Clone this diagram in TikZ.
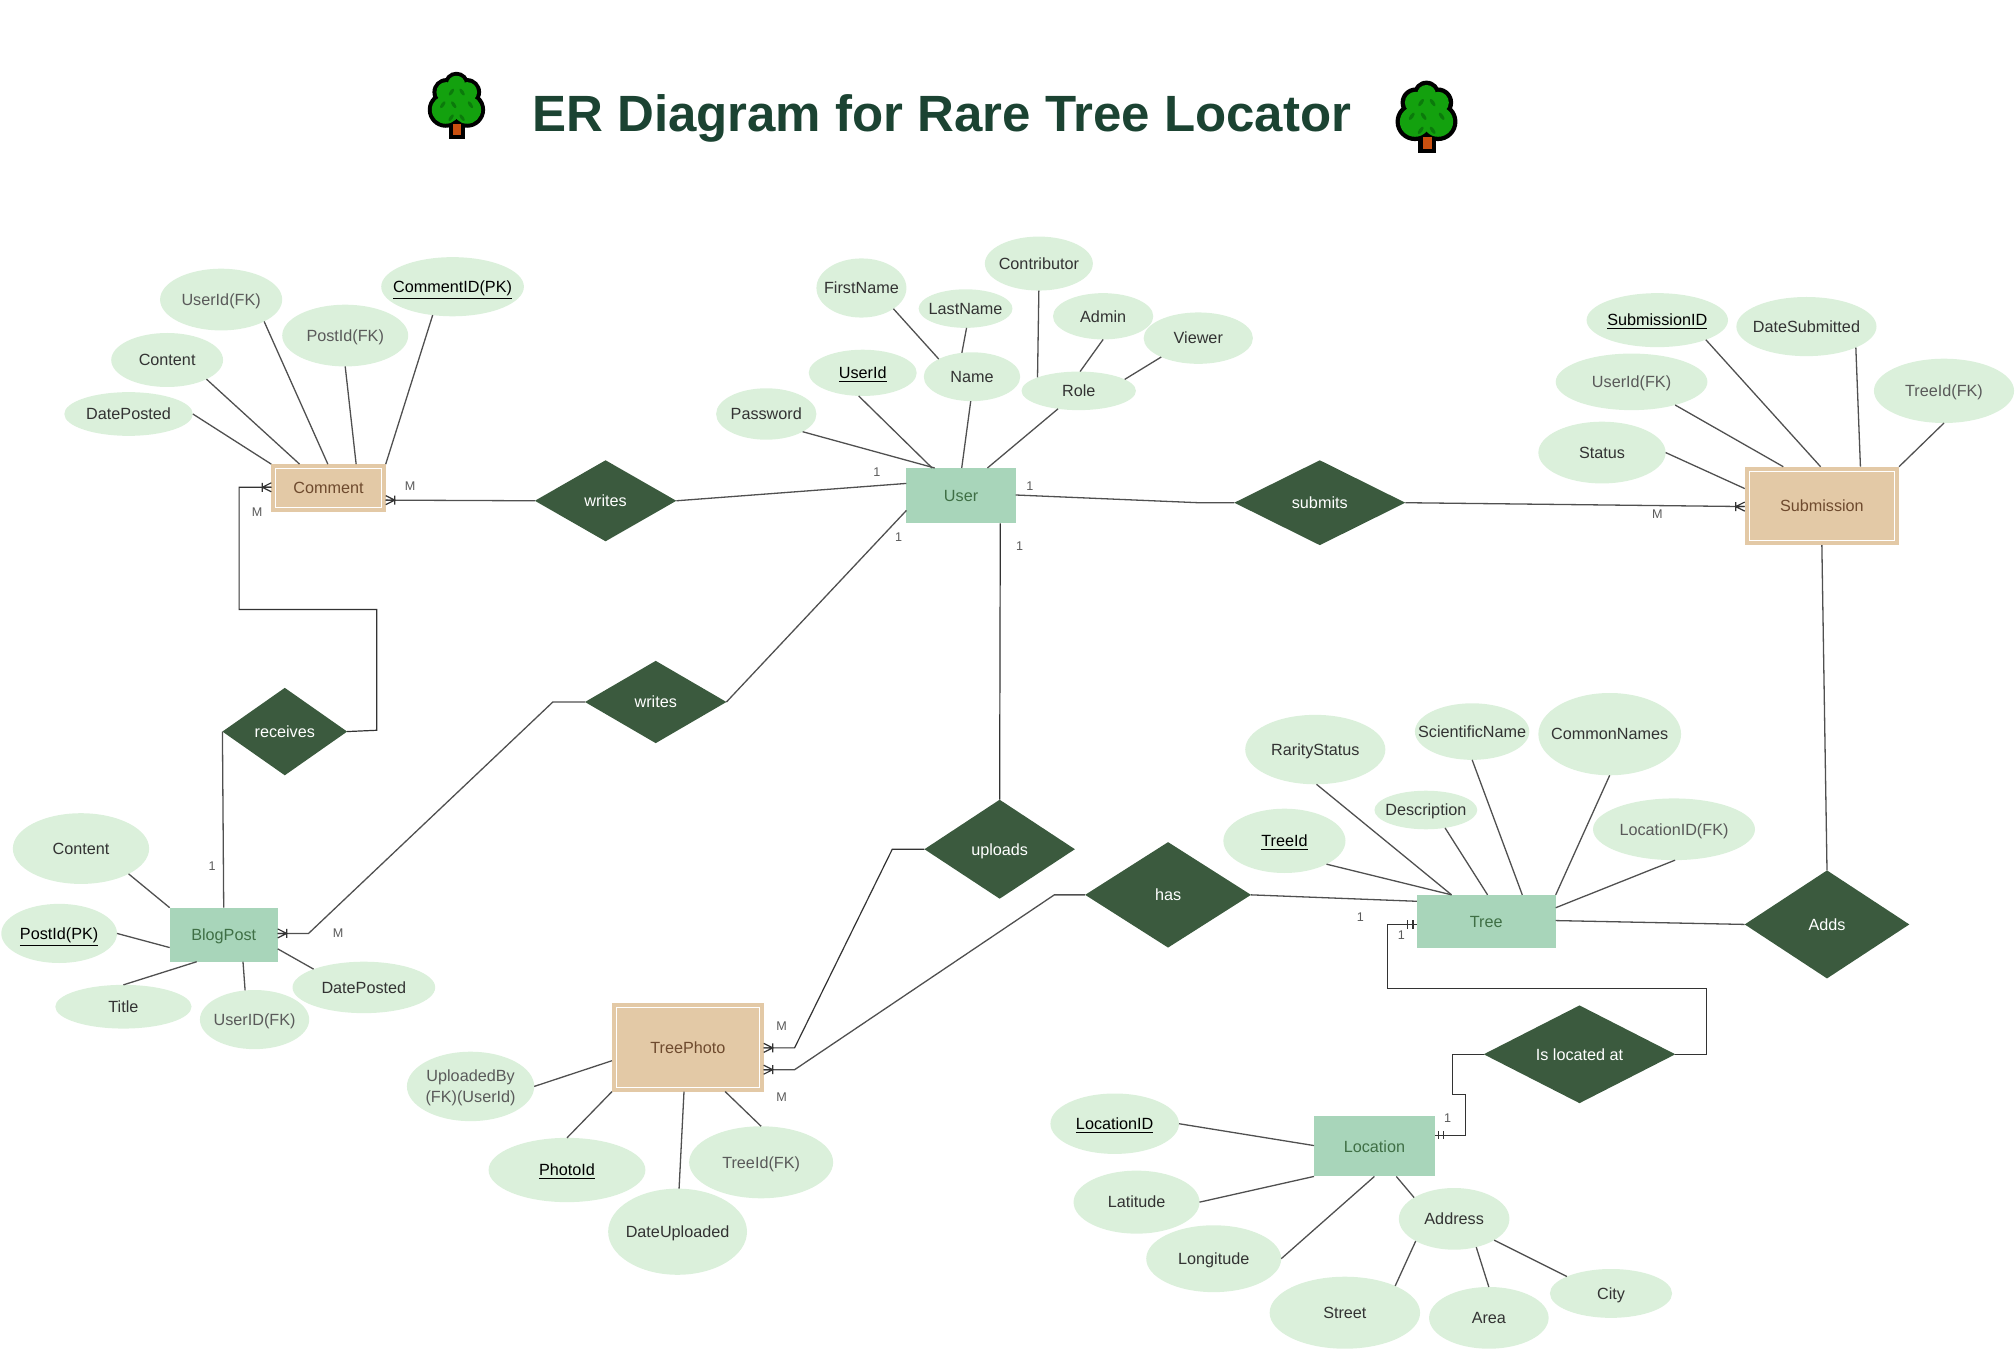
\documentclass[tikz,border=0pt]{standalone}
\usepackage{fontspec}
\setmainfont{Liberation Sans}
\usetikzlibrary{shapes.geometric,calc}
\definecolor{attrfill}{HTML}{DBF0DB}
\definecolor{entgreen}{HTML}{A8D5BA}
\definecolor{enttan}{HTML}{E3C9A6}
\definecolor{reldark}{HTML}{3B5A3E}
\definecolor{titlecol}{HTML}{1B4332}
\definecolor{greentxt}{HTML}{3F6F45}
\definecolor{browntxt}{HTML}{6E4A2E}
\definecolor{txtdark}{HTML}{333333}
\definecolor{txtgrey}{HTML}{5A5A5A}
\definecolor{lncol}{HTML}{505050}
\definecolor{leafcol}{HTML}{0B7A0B}
\definecolor{crown}{HTML}{13A10E}
\definecolor{trunkcol}{HTML}{CA5010}
\def\un{0.6428pt}
\tikzset{
  x=\un,y=-\un,
  lbl/.style={font=\fontsize{8.1}{10}\selectfont},
  attrnode/.style={lbl,shape=ellipse,fill=attrfill,inner sep=0pt,outer sep=0pt,align=center},
  strongent/.style={lbl,shape=rectangle,fill=entgreen,text=greentxt,inner sep=0pt,outer sep=0pt},
  weakent/.style={lbl,shape=rectangle,fill=enttan,text=browntxt,inner sep=0pt,outer sep=0pt},
  relnode/.style={lbl,shape=diamond,fill=reldark,text=white,inner sep=0pt,outer sep=0pt},
  ln/.style={draw=lncol,line width=0.65pt},
  hardln/.style={draw=black!80,line width=0.6pt},
  card/.style={font=\fontsize{6.3}{7}\selectfont,text=txtgrey,inner sep=0pt},
}
\newcommand\midtext[1]{\makebox[0pt][c]{\raisebox{-2.9pt}[0pt][0pt]{#1}}}
\newcommand\attr[7]{\node[attrnode,text=#6,minimum width=#4*\un,minimum height=#5*\un] (#1) at (#2,#3) {\midtext{#7}};}
\newcommand\ent[7]{\node[#1,minimum width=#5*\un,minimum height=#6*\un] (#2) at (#3,#4) {\midtext{#7}};}
\newcommand\rel[6]{\node[relnode,minimum width=#4*\un,minimum height=#5*\un] (#1) at (#2,#3) {\midtext{#6}};}
\newcommand\inset[1]{\draw[white,line width=0.5pt] ($(#1.north west)+(3.4,3.4)$) rectangle ($(#1.south east)+(-3.4,-3.4)$);}
\newcommand\crowfoot[2]{\draw[hardln,shift={(#1)},rotate=#2] (0,0) -- (7,0) (0,-3.5) -- (7,0) -- (0,3.5) (7,-3.5) -- (7,3.5);}
\newcommand\twobars[2]{\draw[hardln,shift={(#1)},rotate=#2] (0,0) -- (9,0) (3,-3.2) -- (3,3.2) (7,-3.2) -- (7,3.2);}
\newcommand\treeicon[3]{%
  \begin{scope}[shift={(#1,#2)},scale=#3]
    \fill[black] (-23,50) rectangle (27,101);
    \fill[black] (0,-63) circle (38) (-30,-40) circle (42) (32,-40) circle (42)
                 (-32,13) circle (54) (32,13) circle (54) (0,-15) circle (62);
    \fill[crown] (0,-63) circle (26) (-30,-40) circle (30) (32,-40) circle (30)
                 (-32,13) circle (42) (32,13) circle (42) (0,-15) circle (50);
    \fill[trunkcol] (-11,55) rectangle (15,90);
    \foreach \lx/\ly/\la in {-15/-40/-35,17/-40/35,-41/-2/-35,-8/-2/35,42/-2/35,-16/37/-35,17/37/35}
      \fill[leafcol,shift={(\lx,\ly)},rotate=\la] (0,0) ellipse (5 and 12);
  \end{scope}}
\newcommand\key[1]{\underline{#1}}
\begin{document}
\begin{tikzpicture}
\useasboundingbox (0,0) rectangle (1568,1049.2);
% title
\node[font=\fontsize{25.5}{30}\selectfont\bfseries,text=titlecol,inner sep=0pt] (title) at (732.5,92) {ER Diagram for Rare Tree Locator};
\treeicon{355}{82}{0.2593}
\treeicon{1109.5}{91}{0.28}
% entities
\ent{weakent}{c}{255.5}{379.5}{89}{37}{Comment}
\ent{strongent}{u}{747.5}{385.5}{85}{43}{User}
\ent{weakent}{s}{1417}{393.5}{120}{61}{Submission}
\ent{strongent}{bp}{174}{727}{84}{42}{BlogPost}
\ent{strongent}{t}{1156}{716.5}{108}{41}{Tree}
\ent{weakent}{tp}{535}{814.5}{118}{69}{TreePhoto}
\ent{strongent}{loc}{1069}{891.5}{94}{47}{Location}
\inset{c}\inset{s}\inset{tp}
% relationships
\rel{wa}{471}{389.5}{110}{63}{writes}
\rel{sub}{1026.5}{391}{133}{66}{submits}
\rel{wb}{510}{546}{110}{64}{writes}
\rel{rec}{221.5}{569}{97}{68}{receives}
\rel{upl}{777.5}{660.5}{117}{77}{uploads}
\rel{has}{908.5}{696}{129}{82}{has}
\rel{add}{1421}{719}{128}{84}{Adds}
\rel{isl}{1228.5}{820}{149}{76}{Is located at}
% comment attributes
\attr{cu}{172}{233}{95}{48}{txtgrey}{UserId(FK)}
\attr{ck}{352}{223}{111}{46}{black}{\key{CommentID(PK)}}
\attr{cp}{268.5}{261}{98}{48}{txtgrey}{PostId(FK)}
\attr{cc}{130}{280}{87}{42}{txtdark}{Content}
\attr{cd}{100}{322}{100}{34}{txtdark}{DatePosted}
% user attributes
\attr{uf}{670}{224}{70}{46}{txtdark}{FirstName}
\attr{ul}{751}{240}{73}{30}{txtdark}{LastName}
\attr{uc}{808}{205}{84}{42}{txtdark}{Contributor}
\attr{ua}{858}{246}{78}{36}{txtdark}{Admin}
\attr{uv}{932}{263}{85}{40}{txtdark}{Viewer}
\attr{un}{756}{293}{75}{38}{txtdark}{Name}
\attr{ur}{839}{304}{89}{30}{txtdark}{Role}
\attr{uk}{671}{290}{84}{36}{black}{\key{UserId}}
\attr{up}{596}{322}{78}{40}{txtdark}{Password}
% submission attributes
\attr{sk}{1289}{249}{110}{42}{black}{\key{SubmissionID}}
\attr{sd}{1405}{254}{109}{46}{txtdark}{DateSubmitted}
\attr{su}{1269}{297}{118}{44}{txtgrey}{UserId(FK)}
\attr{st}{1512}{304}{109}{50}{txtgrey}{TreeId(FK)}
\attr{ss}{1246}{352}{99}{48}{txtdark}{Status}
% tree attributes
\attr{tr}{1023}{583}{109}{54}{txtdark}{RarityStatus}
\attr{tn}{1145}{569}{89}{44}{txtdark}{ScientificName}
\attr{tc}{1252}{571}{111}{64}{txtdark}{CommonNames}
\attr{td}{1109}{630}{80}{30}{txtdark}{Description}
\attr{tk}{999}{654}{95}{50}{black}{\key{TreeId}}
\attr{tl}{1302}{645}{126}{48}{txtgrey}{LocationID(FK)}
% blogpost attributes
\attr{bc}{63}{660}{106}{55}{txtdark}{Content}
\attr{bk}{46}{726}{90}{46}{black}{\key{PostId(PK)}}
\attr{bt}{96}{783}{106}{34}{txtdark}{Title}
\attr{bu}{198}{793}{85}{46}{txtgrey}{UserID(FK)}
\attr{bd}{283}{768}{111}{40}{txtdark}{DatePosted}
% treephoto attributes
\attr{pu}{366}{845}{99}{54}{txtgrey}{\raisebox{-5.2pt}{\shortstack{UploadedBy\\(FK)(UserId)}}}
\attr{pk}{441}{910}{122}{50}{black}{\key{PhotoId}}
\attr{pd}{527}{958}{108}{67}{txtdark}{DateUploaded}
\attr{pt}{592}{904}{112}{56}{txtgrey}{TreeId(FK)}
% location attributes
\attr{lk}{867}{874}{100}{47}{black}{\key{LocationID}}
\attr{la}{884}{935}{98}{49}{txtdark}{Latitude}
\attr{lo}{944}{979}{105}{52}{txtdark}{Longitude}
\attr{ld}{1131}{948}{86}{48}{txtdark}{Address}
\attr{ls}{1046}{1021}{117}{56}{txtdark}{Street}
\attr{lr}{1158}{1025}{93}{48}{txtdark}{Area}
\attr{lc}{1253}{1006}{95}{38}{txtdark}{City}
% attribute connectors
\draw[ln] (cd.0) -- (c.north west);
\draw[ln] (cc.-26) -- ($(c.north west)+(22,0)$);
\draw[ln] (cu.-27) -- ($(c.north west)+(44,0)$);
\draw[ln] (cp.-90) -- ($(c.north west)+(66,0)$);
\draw[ln] (ck.-125) -- (c.north east);
\draw[ln] (up.-26) -- ($(u.north west)+(22,0)$);
\draw[ln] (uk.-100) -- ($(u.north west)+(20,0)$);
\draw[ln] (un.-93) -- ($(u.north west)+(43,0)$);
\draw[ln] (uf.-33) -- (un.152);
\draw[ln] (ul.-87) -- (un.113);
\draw[ln] (uc.-90) -- (ur.162);
\draw[ln] (ua.-90) -- (ur.86);
\draw[ln] (uv.-153) -- (ur.14);
\draw[ln] (ur.-139) -- ($(u.north west)+(63,0)$);
\draw[ln] (sk.-22) -- ($(s.north west)+(59,0)$);
\draw[ln] (sd.-23) -- ($(s.north west)+(90,0)$);
\draw[ln] (su.-28) -- ($(s.north west)+(30,0)$);
\draw[ln] (st.-90) -- (s.north east);
\draw[ln] (ss.0) -- ($(s.north west)+(0,17)$);
\draw[ln] (tr.-88) -- ($(t.north west)+(27,0)$);
\draw[ln] (td.-43) -- ($(t.north west)+(55,0)$);
\draw[ln] (tn.-90) -- ($(t.north west)+(82,0)$);
\draw[ln] (tc.-90) -- (t.north east);
\draw[ln] (tk.-29) -- ($(t.north west)+(27,0)$);
\draw[ln] (tl.-88) -- ($(t.north east)+(0,10)$);
\draw[ln] (bc.-28) -- (bp.north west);
\draw[ln] (bk.0) -- ($(bp.north west)+(0,31)$);
\draw[ln] (bt.90) -- ($(bp.south west)+(21,0)$);
\draw[ln] (bu.108) -- ($(bp.south west)+(57,0)$);
\draw[ln] (bd.160) -- ($(bp.north east)+(0,32)$);
\draw[ln] (pu.0) -- ($(tp.north west)+(0,45)$);
\draw[ln] (pk.90) -- (tp.south west);
\draw[ln] (pd.88) -- ($(tp.south west)+(56,0)$);
\draw[ln] (pt.90) -- ($(tp.south west)+(88,0)$);
\draw[ln] (lk.0) -- ($(loc.north west)+(0,23)$);
\draw[ln] (la.0) -- (loc.south west);
\draw[ln] (lo.0) -- ($(loc.south west)+(47,0)$);
\draw[ln] (ld.152) -- ($(loc.south west)+(64,0)$);
\draw[ln] (ls.28) -- (ld.-150);
\draw[ln] (lr.90) -- (ld.-52);
\draw[ln] (lc.159) -- (ld.-28);
% relationship connectors
\coordinate (cR) at ($(c.north east)+(0,28)$);
\coordinate (cL) at ($(c.north west)+(0,18)$);
\coordinate (sL) at ($(s.north west)+(0,31)$);
\coordinate (bR) at ($(bp.north east)+(0,20)$);
\coordinate (pA) at ($(tp.north east)+(0,35)$);
\coordinate (pB) at ($(tp.north east)+(0,52)$);
\coordinate (tL) at ($(t.north west)+(0,23)$);
\coordinate (lR) at ($(loc.north east)+(0,15)$);
\draw[ln] (wa.west) -- (cR);
\draw[ln] (wa.east) -- ($(u.north west)+(0,12)$);
\draw[ln] ($(u.north east)+(0,21)$) -- (932,391) -- (sub.west);
\draw[ln] (sub.east) -- (sL);
\draw[hardln] ($(u.south west)+(73,0)$) -- (upl.north);
\draw[ln] (wb.east) -- ($(u.north west)+(0,33)$);
\draw[ln] (wb.west) -- (430,546) -- (240,726) -- (bR);
\draw[hardln] (cL) -- (186,379) -- (186,474) -- (293,474) -- (293,568) -- (rec.east);
\draw[ln] (rec.west) -- ($(bp.north west)+(42,0)$);
\draw[hardln] (upl.west) -- (694,660.5) -- (618,815) -- (pA);
\draw[ln] (has.west) -- (820,696) -- (618,832) -- (pB);
\draw[ln] (has.east) -- ($(t.north west)+(0,5)$);
\draw[ln] ($(t.north east)+(0,20)$) -- (add.west);
\draw[ln] (s.south) -- (add.north);
\draw[hardln] (tL) -- (1079,719) -- (1079,769) -- (1327,769) -- (1327,820) -- (isl.east);
\draw[hardln] (isl.west) -- (1130,820) -- (1130,851) -- (1140,851) -- (1140,883) -- (lR);
\crowfoot{cR}{0}
\crowfoot{cL}{180}
\crowfoot{sL}{180}
\crowfoot{bR}{0}
\crowfoot{pA}{0}
\crowfoot{pB}{0}
\twobars{tL}{180}
\twobars{lR}{0}
% cardinalities
\node[card] (m1) at (319,378) {M};
\node[card] (m2) at (200,398) {M};
\node[card] (o1) at (682,367) {1};
\node[card] (o2) at (801,378) {1};
\node[card] (m3) at (1289,400) {M};
\node[card] (o3) at (699,418) {1};
\node[card] (o4) at (793,425) {1};
\node[card] (o5) at (165,674) {1};
\node[card] (m4) at (263,726) {M};
\node[card] (m5) at (608,798) {M};
\node[card] (m6) at (608,853) {M};
\node[card] (o6) at (1058,713) {1};
\node[card] (o7) at (1090,727) {1};
\node[card] (o8) at (1126,870) {1};
\end{tikzpicture}
\end{document}
